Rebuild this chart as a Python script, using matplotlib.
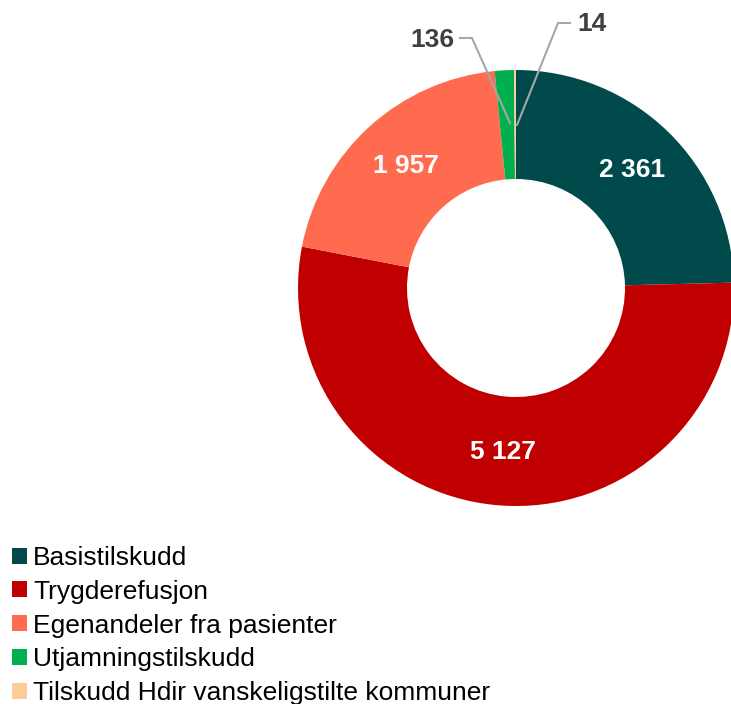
import matplotlib.pyplot as plt
from matplotlib.patches import Patch

plt.rcParams['font.family'] = ['Liberation Sans', 'DejaVu Sans']

categories = ["Basistilskudd", "Trygderefusjon", "Egenandeler fra pasienter",
              "Utjamningstilskudd", "Tilskudd Hdir vanskeligstilte kommuner"]
values = [2361, 5127, 1957, 136, 14]
colors = ["#004A4C", "#C00000", "#FF6B4F", "#00B050", "#FFCC99"]
labels = ["2 361", "5 127", "1 957", "136", "14"]


def main():
  W, H = 731, 704
  fig = plt.figure(figsize=(W / 100, H / 100), dpi=100)
  ax = fig.add_axes([0, 0, 1, 1])
  ax.set_xlim(0, W)
  ax.set_ylim(0, H)
  ax.set_aspect("equal")
  ax.axis("off")

  cx, cy, r = 516, H - 288, 218
  wedges, _ = ax.pie(values, colors=colors, startangle=90, counterclock=False,
                     center=(cx, cy), radius=r,
                     wedgeprops=dict(width=r * 0.5, edgecolor="none"))
  ax.set_xlim(0, W)
  ax.set_ylim(0, H)

  # inside labels
  inside = {0: (632, H - 170), 1: (503, H - 452), 2: (406, H - 166)}
  for i, (x, y) in inside.items():
    ax.text(x, y, labels[i], color="white", fontsize=19, fontweight="bold",
            ha="center", va="center")

  # outside labels with leader lines
  grey = "#A6A6A6"
  ax.plot([460, 472, 510], [H - 38, H - 38, H - 123], color=grey, lw=1.5)
  ax.text(455, H - 40, labels[3], color="#404040", fontsize=19, fontweight="bold",
          ha="right", va="center")
  ax.plot([570, 558, 517], [H - 23, H - 23, H - 125], color=grey, lw=1.5)
  ax.text(577, H - 24, labels[4], color="#404040", fontsize=19, fontweight="bold",
          ha="left", va="center")

  handles = [Patch(facecolor=c, edgecolor="none") for c in colors]
  fig.legend(handles, categories, loc="upper left", bbox_to_anchor=(12 / W, 1 - 546 / H),
             frameon=False, fontsize=19, handlelength=0.55, handleheight=0.55,
             handletextpad=0.25, labelspacing=0.37, borderaxespad=0, borderpad=0)

  fig.savefig("out.png", dpi=100)


if __name__ == "__main__":
  main()
